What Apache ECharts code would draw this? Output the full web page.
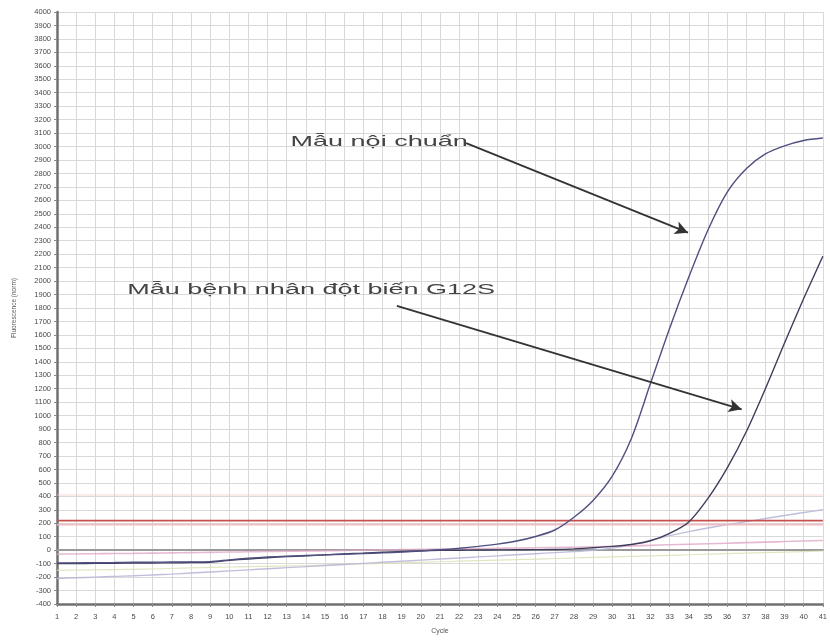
<!DOCTYPE html>
<html>
<head>
<meta charset="utf-8">
<script src="https://cdn.jsdelivr.net/npm/echarts@6/dist/echarts.min.js"></script>
<style>
  html, body { margin: 0; padding: 0; background: #fff; }
  #chart { width: 830px; height: 640px; }
</style>
</head>
<body>
<div id="chart"></div>
<script>
// Real-time PCR amplification plot: fluorescence per cycle.
const cycles = [1,2,3,4,5,6,7,8,9,10,11,12,13,14,15,16,17,18,19,20,21,22,23,24,25,26,27,28,29,30,31,32,33,34,35,36,37,38,39,40,41];

// Internal control sample
const internalControl = [-95,-94,-93,-92,-90,-89,-88,-87,-85,-72,-60,-51,-45,-40,-35,-30,-25,-20,-14,-6,3,14,28,45,68,102,150,245,370,550,830,1240,1650,2030,2380,2660,2835,2945,3005,3045,3063];

// Patient sample, G12S mutation
const patientG12S = [-100,-99,-98,-97,-96,-95,-94,-92,-90,-76,-65,-56,-48,-42,-35,-28,-22,-15,-10,-5,-1,0,1,2,3,4,5,10,18,28,42,70,125,210,385,610,880,1200,1540,1870,2185];

// Other wells (faint traces)
const wellLavender = [-210,-205,-200,-195,-190,-184,-178,-170,-162,-154,-146,-138,-130,-122,-114,-106,-98,-90,-82,-74,-66,-58,-50,-42,-34,-26,-18,-10,0,15,40,75,108,138,165,190,212,235,258,280,300];
const wellPink = [-30,-28,-26,-25,-24,-22,-20,-18,-16,-14,-12,-10,-8,-6,-4,-2,0,2,4,6,8,10,12,14,16,18,20,22,25,28,32,36,40,44,48,52,56,60,64,68,72];
const wellGreen = [-150,-148,-146,-144,-142,-140,-136,-132,-128,-125,-122,-120,-117,-114,-110,-106,-102,-98,-94,-90,-86,-82,-78,-74,-70,-66,-62,-58,-54,-50,-46,-42,-38,-34,-30,-26,-22,-18,-14,-10,-6];

// Threshold levels
const thresholdMain = 220;
const thresholdLight = 190;
const thresholdFaint = 410;

// Axis tick settings
const xMin = 1, xMax = 41, xStep = 1;
const yMin = -400, yMax = 4000, yStep = 100;

// Annotations (data coordinates): text top-left corner, arrow start and tip
const notes = [
  { text: 'Mẫu nội chuẩn', at: [13.2, 3105], from: [22.37, 3025], to: [33.96, 2360] },
  { text: 'Mẫu bệnh nhân đột biến G12S', at: [4.67, 2005], from: [18.75, 1815], to: [36.76, 1047] }
];

const pairs = arr => cycles.map((c, i) => [c, arr[i]]);
const flat = v => cycles.map(c => [c, v]);

const chart = echarts.init(document.getElementById('chart'), null, { renderer: 'canvas' });

function trace(name, data, color, width, opacity, extra) {
  return Object.assign({
    name, type: 'line', data, smooth: 0.3, showSymbol: false, symbol: 'none',
    lineStyle: { color, width, opacity }, z: 3, silent: true
  }, extra || {});
}

function arrow(note) {
  return {
    markLine: {
      silent: true, animation: false,
      symbol: ['none', 'arrow'], symbolSize: [10, 13],
      lineStyle: { color: '#333', width: 1.8, type: 'solid' },
      label: { show: false },
      data: [[{ coord: note.from }, { coord: note.to }]]
    }
  };
}

const tickFont = { fontSize: 7.5, color: '#4a4a4a', fontFamily: 'Liberation Sans, Arial, sans-serif', formatter: v => String(v) };

chart.setOption({
  animation: false,
  backgroundColor: '#fff',
  grid: { left: 57, right: 0, top: 12, bottom: 32, containLabel: false },
  xAxis: [{
    type: 'value', min: xMin, max: xMax, interval: xStep,
    name: 'Cycle', nameLocation: 'middle', nameGap: 24,
    nameTextStyle: { fontSize: 7, color: '#555' },
    axisLine: { show: true, onZero: false, lineStyle: { color: '#707070', width: 2.5 } },
    axisTick: { show: true, length: 3, lineStyle: { color: '#888' } },
    axisLabel: Object.assign({ margin: 9 }, tickFont),
    splitLine: { show: true, lineStyle: { color: '#d9d9d9', width: 1 } }
  }, {
    type: 'value', min: xMin, max: xMax, interval: xStep, position: 'top',
    axisLine: { show: true, lineStyle: { color: '#9a9a9a', width: 2 } },
    axisTick: { show: false }, axisLabel: { show: false }, splitLine: { show: false }
  }],
  yAxis: {
    type: 'value', min: yMin, max: yMax, interval: yStep,
    name: 'Fluorescence (norm)', nameLocation: 'middle', nameGap: 39, nameRotate: 90,
    nameTextStyle: { fontSize: 6.5, color: '#555' },
    axisLine: { show: true, onZero: false, lineStyle: { color: '#707070', width: 2.5 } },
    axisTick: { show: true, length: 3, lineStyle: { color: '#888' } },
    axisLabel: Object.assign({ margin: 6 }, tickFont),
    splitLine: { show: true, lineStyle: { color: '#d9d9d9', width: 1 } }
  },
  series: [
    trace('Faint threshold', flat(thresholdFaint), '#f4c8c0', 1.2, 0.7),
    trace('Green well', pairs(wellGreen), '#d8e0b0', 1.2, 0.8),
    trace('Lavender well', pairs(wellLavender), '#b8b8d8', 1.4, 0.9),
    trace('Pink well', pairs(wellPink), '#e0a8c8', 1.6, 0.8),
    trace('Light threshold', flat(thresholdLight), '#f2b4bc', 1.6, 0.9),
    trace('Threshold', flat(thresholdMain), '#c8504c', 1.8, 1),
    trace('Mẫu bệnh nhân đột biến G12S', pairs(patientG12S), '#3e3e5c', 1.4, 1, arrow(notes[1])),
    trace('Mẫu nội chuẩn', pairs(internalControl), '#4f4f80', 1.4, 1, arrow(notes[0]))
  ]
});

// Annotation captions, placed from their data coordinates and widened horizontally
chart.setOption({
  graphic: notes.map(n => {
    const p = chart.convertToPixel({ gridIndex: 0 }, n.at);
    return {
      type: 'text', x: p[0], y: p[1] + 2, scaleX: 1.8, scaleY: 1, z: 100, silent: true,
      style: { text: n.text, fill: '#444', font: '15px "Liberation Sans", Arial, sans-serif' }
    };
  })
});
</script>
</body>
</html>
